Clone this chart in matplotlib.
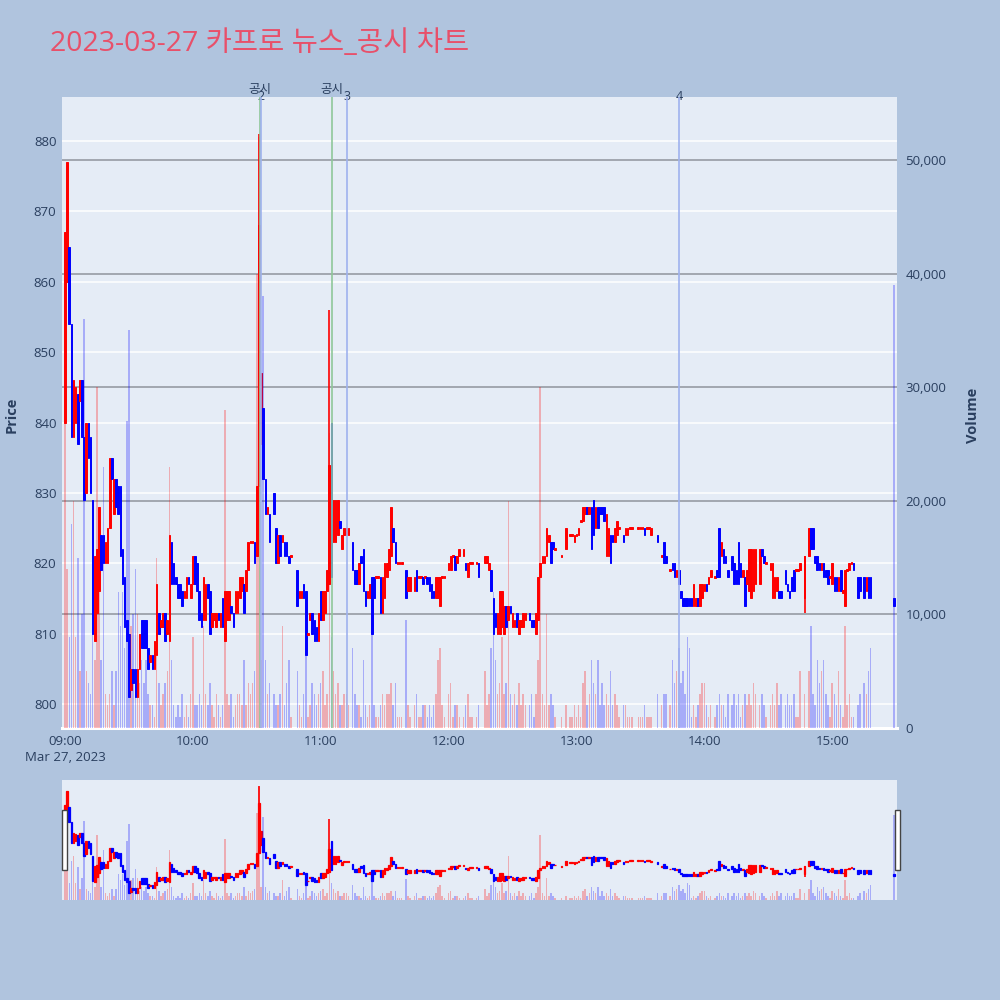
import matplotlib
matplotlib.use('Agg')
import matplotlib.pyplot as plt
import matplotlib.transforms as mtransforms
from matplotlib.patches import Rectangle

plt.rcParams['font.family'] = ['Open Sans', 'Noto Sans CJK KR', 'DejaVu Sans']

title = '2023-03-27 카프로 뉴스_공시 차트'
date_label = 'Mar 27, 2023'
hour_labels = ['09:00', '10:00', '11:00', '12:00', '13:00', '14:00', '15:00']
price_ticks = [800, 810, 820, 830, 840, 850, 860, 870, 880]
volume_ticks = [0, 10000, 20000, 30000, 40000, 50000]

# minutes after 09:00 of each one-minute candle
minutes = [
    0, 1, 2, 3, 4, 5, 6, 7, 8, 9,
    10, 11, 12, 13, 14, 15, 16, 17, 18, 19,
    20, 21, 22, 23, 24, 25, 26, 27, 28, 29,
    30, 31, 32, 33, 34, 35, 36, 37, 38, 39,
    40, 41, 42, 43, 44, 45, 46, 47, 48, 49,
    50, 51, 52, 53, 54, 55, 56, 57, 58, 59,
    60, 61, 62, 63, 64, 65, 66, 67, 68, 69,
    70, 71, 72, 73, 74, 75, 76, 77, 78, 79,
    80, 81, 82, 83, 84, 85, 86, 87, 88, 89,
    90, 91, 92, 93, 94, 95, 96, 98, 99, 100,
    101, 102, 103, 104, 105, 106, 109, 110, 111, 112,
    113, 114, 115, 116, 117, 118, 119, 120, 121, 122,
    123, 124, 125, 126, 127, 128, 129, 130, 131, 132,
    133, 135, 136, 137, 138, 139, 140, 141, 142, 143,
    144, 145, 146, 147, 148, 149, 150, 151, 152, 153,
    154, 155, 156, 157, 158, 160, 161, 162, 164, 165,
    166, 167, 168, 169, 170, 171, 172, 173, 174, 175,
    176, 177, 178, 180, 181, 182, 183, 184, 185, 187,
    188, 189, 190, 191, 193, 194, 197, 198, 199, 200,
    201, 202, 203, 204, 205, 206, 207, 208, 209, 210,
    211, 212, 213, 214, 215, 216, 218, 219, 220, 221,
    222, 223, 224, 225, 226, 227, 228, 229, 230, 233,
    235, 237, 238, 239, 240, 241, 242, 243, 244, 245,
    246, 247, 248, 249, 250, 251, 252, 253, 254, 255,
    256, 257, 258, 259, 260, 262, 263, 264, 265, 266,
    269, 270, 271, 272, 273, 274, 275, 278, 280, 281,
    282, 284, 285, 286, 287, 288, 289, 290, 291, 292,
    293, 294, 295, 296, 297, 298, 299, 300, 301, 302,
    303, 305, 306, 307, 308, 309, 310, 311, 313, 314,
    315, 316, 317, 318, 319, 320, 321, 322, 323, 324,
    326, 327, 328, 329, 331, 332, 333, 334, 335, 336,
    338, 339, 340, 341, 342, 343, 344, 345, 347, 349,
    350, 351, 352, 353, 354, 355, 356, 357, 358, 359,
    360, 361, 362, 363, 364, 365, 366, 367, 368, 369,
    370, 372, 373, 375, 376, 377, 378, 389]

opens = [
    840, 860, 865, 854, 838, 840, 844, 843, 846, 838,
    830, 840, 838, 829, 809, 813, 816, 824, 824, 820,
    820, 825, 835, 827, 832, 831, 831, 822, 818, 812,
    810, 802, 805, 805, 801, 805, 812, 812, 812, 808,
    806, 807, 805, 807, 813, 811, 811, 813, 810, 809,
    823, 820, 818, 817, 817, 816, 815, 815, 818, 815,
    817, 821, 820, 816, 813, 812, 812, 817, 816, 811,
    812, 811, 813, 811, 815, 809, 812, 812, 814, 813,
    813, 813, 815, 816, 817, 816, 819, 823, 823, 823,
    821, 831, 837, 842, 832, 827, 827, 830, 825, 820,
    824, 823, 823, 823, 821, 821, 819, 815, 815, 817,
    816, 810, 812, 813, 812, 811, 809, 816, 812, 813,
    816, 817, 840, 823, 823, 824, 826, 822, 824, 824,
    824, 823, 819, 819, 817, 821, 822, 816, 815, 815,
    818, 818, 818, 818, 818, 813, 815, 818, 819, 821,
    825, 823, 820, 820, 820, 819, 816, 816, 816, 819,
    818, 818, 818, 818, 818, 818, 817, 816, 815, 815,
    814, 818, 818, 819, 819, 821, 821, 820, 821, 821,
    820, 818, 820, 820, 820, 820, 820, 820, 819, 819,
    815, 813, 810, 810, 811, 810, 814, 812, 814, 811,
    811, 813, 810, 811, 811, 812, 813, 812, 812, 810,
    812, 818, 820, 820, 821, 823, 823, 823, 822, 821,
    822, 824, 824, 823, 824, 824, 826, 826, 827, 828,
    827, 828, 829, 825, 828, 828, 828, 828, 821, 821,
    824, 824, 823, 824, 825, 824, 824, 824, 825, 825,
    825, 825, 825, 825, 825, 825, 824, 824, 821, 823,
    821, 819, 820, 820, 818, 819, 816, 815, 815, 815,
    815, 815, 814, 814, 815, 814, 815, 816, 817, 817,
    818, 818, 819, 825, 821, 822, 821, 819, 821, 820,
    819, 823, 820, 818, 818, 817, 816, 815, 816, 817,
    817, 822, 821, 820, 819, 815, 815, 816, 816, 816,
    819, 817, 816, 818, 819, 819, 819, 819, 815, 821,
    825, 825, 821, 821, 820, 819, 820, 819, 819, 818,
    817, 818, 818, 816, 819, 816, 814, 819, 819, 820,
    820, 818, 818, 818, 816, 818, 818, 815]

closes = [
    867, 877, 854, 838, 846, 845, 837, 846, 838, 829,
    840, 835, 830, 810, 821, 822, 828, 819, 820, 823,
    825, 835, 832, 832, 828, 827, 821, 817, 811, 809,
    801, 805, 803, 801, 805, 810, 808, 808, 808, 805,
    807, 805, 809, 817, 810, 812, 813, 809, 812, 824,
    817, 817, 817, 815, 815, 814, 816, 818, 817, 817,
    821, 817, 816, 812, 811, 818, 817, 815, 810, 813,
    813, 813, 812, 813, 811, 816, 816, 816, 813, 811,
    816, 816, 818, 818, 813, 819, 823, 823, 823, 820,
    831, 868, 847, 832, 827, 828, 823, 827, 820, 824,
    821, 824, 821, 821, 820, 821, 814, 816, 816, 815,
    807, 810, 813, 810, 809, 809, 813, 812, 816, 816,
    819, 834, 818, 829, 829, 829, 825, 824, 825, 825,
    825, 819, 817, 817, 820, 820, 816, 814, 816, 817,
    810, 815, 818, 818, 813, 818, 820, 820, 822, 828,
    823, 820, 820, 820, 820, 815, 818, 818, 818, 816,
    818, 818, 817, 818, 817, 816, 815, 815, 818, 818,
    818, 818, 818, 820, 821, 821, 819, 821, 822, 822,
    819, 820, 820, 820, 820, 818, 821, 821, 820, 816,
    810, 811, 813, 816, 816, 814, 811, 814, 813, 813,
    812, 811, 812, 812, 813, 813, 812, 811, 811, 813,
    818, 820, 821, 821, 825, 824, 820, 822, 822, 821,
    825, 824, 824, 824, 824, 825, 826, 828, 828, 827,
    828, 822, 824, 828, 825, 827, 827, 826, 827, 825,
    820, 823, 825, 826, 825, 823, 825, 825, 825, 825,
    825, 825, 825, 824, 825, 825, 825, 823, 821, 820,
    820, 819, 819, 818, 819, 817, 815, 814, 814, 814,
    814, 814, 817, 815, 814, 817, 817, 817, 816, 818,
    819, 818, 818, 818, 823, 820, 820, 818, 819, 817,
    817, 817, 818, 819, 814, 819, 822, 822, 822, 822,
    822, 821, 820, 820, 820, 820, 818, 818, 815, 815,
    817, 816, 815, 816, 816, 819, 819, 820, 821, 825,
    822, 822, 820, 819, 819, 820, 818, 818, 817, 818,
    820, 816, 816, 818, 816, 816, 819, 819, 820, 820,
    819, 815, 816, 815, 818, 815, 815, 814]

# traded volume, in thousands of shares
volumes_k = [
    32, 14, 8, 18, 20, 8, 15, 5, 10, 36,
    5, 4, 3, 9, 6, 30, 14, 6, 23, 3,
    2, 3, 5, 2, 5, 12, 9, 12, 7, 27,
    35, 9, 10, 14, 10, 4, 6, 4, 6, 3,
    2, 2, 1, 15, 4, 2, 3, 4, 5, 23,
    6, 2, 1, 2, 1, 3, 1, 2, 1, 3,
    8, 2, 2, 3, 2, 9, 3, 2, 4, 2,
    1, 3, 2, 1, 2, 28, 3, 2, 3, 1,
    2, 3, 3, 2, 6, 2, 4, 3, 4, 5,
    40, 52, 6, 38, 6, 3, 4, 3, 2, 2,
    3, 9, 2, 4, 6, 1, 5, 2, 1, 3,
    7, 1, 2, 4, 3, 2, 3, 4, 5, 2,
    3, 26, 8, 5, 3, 4, 2, 2, 3, 3,
    2, 7, 3, 2, 2, 1, 6, 2, 1, 2,
    9, 2, 1, 1, 2, 3, 2, 3, 3, 4,
    2, 4, 1, 1, 1, 9.5, 2, 1, 2, 3,
    1, 1, 2, 2, 1, 2, 1, 2, 3, 6,
    7, 2, 1, 3, 4, 1, 2, 2, 1, 1,
    2, 3, 1, 1, 1, 2, 5, 2, 3, 7,
    12, 6, 3, 4, 8, 3, 4, 20, 3, 2,
    3, 2, 4, 2, 3, 2, 2, 3, 1, 3,
    6, 30, 3, 2, 10, 2, 3, 2, 1, 1,
    2, 1, 1, 2, 1, 2, 1, 4, 5, 2,
    3, 6, 4, 3, 6, 2, 4, 2, 3, 2,
    5, 2, 3, 2, 1, 2, 2, 1, 1, 1,
    1, 1, 1, 2, 1, 1, 1, 3, 2, 3,
    3, 2, 6, 4, 5, 7, 4, 5, 3, 8,
    7, 1, 2, 1, 2, 3, 4, 4, 2, 1,
    2, 1, 2, 3, 2, 2, 1, 3, 2, 3,
    2, 3, 1, 2, 3, 2, 3, 2, 4, 3,
    2, 3, 2, 1, 2, 3, 2, 4, 2, 3,
    2, 3, 2, 2, 3, 1, 1, 5, 3, 5,
    9, 3, 2, 6, 4, 5, 6, 3, 2, 1,
    4, 3, 2, 5, 2, 1, 9, 2, 3, 1,
    1, 2, 3, 4, 3, 5, 7, 39]

# wicks that reach beyond the candle body
wick_highs = {91: 881, 124: 856}
wick_lows = {347: 813}

# events (time of day)
disclosure_times = ['10:31:25', '11:05:10']
disclosure_text = '공시'
news_times = ['10:31:55', '11:12:10', '13:48:20']
news_labels = ['2', '3', '4']

assert len(minutes) == len(opens) == len(closes) == len(volumes_k)


def to_min(t):
    h, m, s = [int(p) for p in t.split(':')]
    return (h - 9) * 60 + m + s / 60.0


UP = '#FF0000'
DOWN = '#0000FF'
FONT_C = '#2a3f5f'
BG = '#B0C4DE'
PLOT_BG = '#E5ECF6'

fig = plt.figure(figsize=(10, 10), dpi=100, facecolor=BG)

L, R = 62, 897
ax = fig.add_axes([L / 1000, 1 - 728 / 1000, (R - L) / 1000, (728 - 97) / 1000])
ax.set_facecolor(PLOT_BG)
axv = ax.twinx()
XLIM = (-1.4, 390.4)


def draw_candles(axp, axvol, lw_body, min_h):
    cols = [UP if c >= o else DOWN for o, c in zip(opens, closes)]
    bottoms, heights = [], []
    for o, c in zip(opens, closes):
        lo, hi = min(o, c), max(o, c)
        if hi - lo < min_h:
            mid = (hi + lo) / 2
            lo, hi = mid - min_h / 2, mid + min_h / 2
        bottoms.append(lo)
        heights.append(hi - lo)
    for m, o, c, col in zip(minutes, opens, closes, cols):
        hi = wick_highs.get(m, max(o, c))
        lo = wick_lows.get(m, min(o, c))
        if hi > max(o, c) or lo < min(o, c):
            axp.vlines(m, lo, hi, color=col, lw=1.2, zorder=3)
    axp.bar(minutes, heights, bottom=bottoms, width=0.75, color=cols,
            edgecolor=cols, linewidth=lw_body, zorder=3)
    vcols = [UP if c >= o else DOWN for o, c in zip(opens, closes)]
    axvol.bar(minutes, [v * 1000 for v in volumes_k], width=0.7,
              color=vcols, alpha=0.27, linewidth=0, zorder=2)


draw_candles(ax, axv, 0.7, 0.3)

ax.set_xlim(*XLIM)
ax.set_ylim(796.6, 886.25)
axv.set_ylim(0, 55550)

# grids
ax.set_yticks(price_ticks)
ax.grid(axis='y', color='white', lw=1.1, zorder=0)
ax.set_axisbelow(True)
blend = mtransforms.blended_transform_factory(ax.transAxes, axv.transData)
for v in volume_ticks[1:]:
    ax.plot([0, 1], [v, v], transform=blend, color='#8f949c', lw=1.1, zorder=0.8)
ax.plot([0, 1], [0, 0], transform=blend, color='white', lw=2.2, zorder=0.9, clip_on=False)

for a in (ax, axv):
    for s in a.spines.values():
        s.set_visible(False)

ax.set_xticks([i * 60 for i in range(len(hour_labels))])
xl = list(hour_labels)
xl[0] = hour_labels[0] + '\n' + date_label
ax.set_xticklabels(xl, linespacing=1.35)
ax.tick_params(axis='x', length=0, pad=5, labelsize=9.5, labelcolor=FONT_C)
ax.tick_params(axis='y', length=0, pad=4, labelsize=9.5, labelcolor=FONT_C)
axv.set_yticks(volume_ticks)
axv.set_yticklabels([f'{v:,}' for v in volume_ticks])
axv.tick_params(axis='y', length=0, pad=6, labelsize=9.5, labelcolor=FONT_C)

ax.set_ylabel('Price', fontsize=10.5, fontweight='bold', color=FONT_C)
ax.yaxis.set_label_coords(-0.052, 0.496)
axv.set_ylabel('Volume', fontsize=10.5, fontweight='bold', color=FONT_C)
axv.yaxis.set_label_coords(1.0826, 0.496)

# event lines and labels
top_blend = mtransforms.blended_transform_factory(ax.transData, fig.transFigure)
for t in disclosure_times:
    x = to_min(t)
    axv.axvline(x, color='#8fc79a', lw=1.4, alpha=0.85, zorder=6)
    ax.text(x, 0.910, disclosure_text, transform=top_blend, ha='center', va='center',
            fontsize=9, color=FONT_C, family=['Noto Sans CJK KR', 'DejaVu Sans'])
for t, lab in zip(news_times, news_labels):
    x = to_min(t)
    axv.axvline(x, color='#9fb2ee', lw=1.4, alpha=0.85, zorder=6)
    ax.text(x, 0.903, lab, transform=top_blend, ha='center', va='center',
            fontsize=9, color=FONT_C)

fig.text(0.05, 1 - 0.051, title, fontsize=20.5, color='#E8506A', ha='left', va='baseline',
         family=['Open Sans', 'Noto Sans CJK KR', 'DejaVu Sans'])

# range slider
rs = fig.add_axes([L / 1000, 0.1, (R - L) / 1000, 0.12])
rs.set_facecolor(PLOT_BG)
rsv = rs.twinx()
draw_candles(rs, rsv, 0.9, 0.6)
rs.set_xlim(*XLIM)
rs.set_ylim(795.8, 885.4)
rsv.set_ylim(0, 55000)
for a in (rs, rsv):
    a.set_xticks([])
    a.set_yticks([])
    for s in a.spines.values():
        s.set_visible(False)
for hx in (62, 895):
    fig.patches.append(Rectangle((hx / 1000, 0.13), 0.0045, 0.06, transform=fig.transFigure,
                                 facecolor='white', edgecolor='#444444', lw=1.0, zorder=10))

fig.savefig('out.png', dpi=100, facecolor=BG)
